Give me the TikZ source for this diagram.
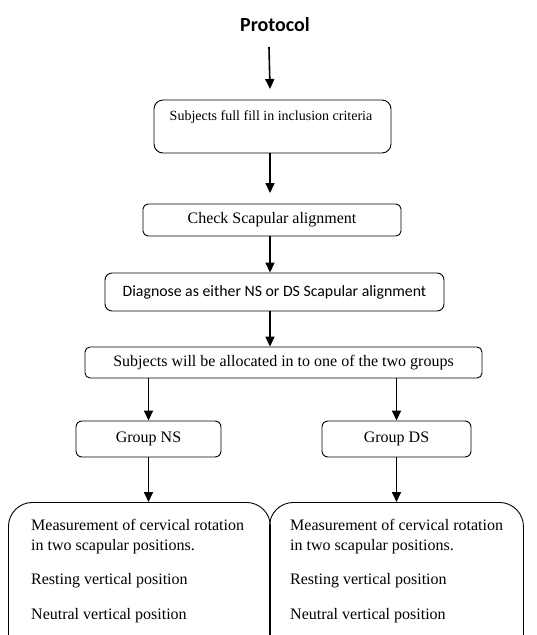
\documentclass[tikz,border=0pt]{standalone}
\usepackage{fontspec}
\setmainfont{Liberation Serif}
\newfontfamily\calibri{Carlito}
\usetikzlibrary{arrows.meta}
\tikzset{
  x=1pt, y=-1pt,
  box/.style={draw, line width=0.9pt, rounded corners=#1, inner sep=0pt},
  box/.default=6pt,
  txt/.style={font=\fontsize{16}{20}\selectfont, inner sep=0pt},
  sanstxt/.style={font=\calibri\fontsize{15.8}{18}\selectfont, inner sep=0pt},
  arr/.style={line width=1.6pt, -{Triangle[length=10pt, width=9pt]}},
}
\begin{document}
\begin{tikzpicture}
\useasboundingbox (0,0) rectangle (536,635);
\clip (0,0) rectangle (536,635);
% title
\node[font=\calibri\bfseries\fontsize{20}{24}\selectfont, inner sep=0pt] (title) at (275,25) {Protocol};
\coordinate (t0) at (269,47);
% boxes
\draw[box=9pt] (154,100) rectangle (391,153);
\node[txt, minimum width=237pt, minimum height=53pt] (b1) at (272.5,126.5) {};
\node[txt, font=\fontsize{14}{17}\selectfont] (b1t) at (271,117) {Subjects full fill in inclusion criteria};

\node[box=5pt, txt, minimum width=258pt, minimum height=32pt] (b2) at (272,220) {Check Scapular alignment};
\node[box=7pt, sanstxt, minimum width=339pt, minimum height=38pt] (b3) at (274.5,292) {Diagnose as either NS or DS Scapular alignment};
\node[box=5pt, txt, minimum width=397pt, minimum height=31pt] (b4) at (283.5,362.5) {Subjects will be allocated in to one of the two groups};

\node[box=6pt, txt, minimum width=145pt, minimum height=36pt] (g1) at (148.5,439) {Group NS};
\node[box=6pt, txt, minimum width=149pt, minimum height=36pt] (g2) at (396.5,439) {Group DS};

\node[box=24pt, minimum width=262pt, minimum height=160pt, anchor=north west] (m1) at (8,502) {};
\node[box=24pt, minimum width=254pt, minimum height=160pt, anchor=north west] (m2) at (269,502) {};

\node[txt, anchor=base west] (m1a) at (31,530) {Measurement of cervical rotation};
\node[txt, anchor=base west] (m1d) at (31,550) {in two scapular positions.};
\node[txt, anchor=base west] (m1b) at (31,584) {Resting vertical position};
\node[txt, anchor=base west] (m1c) at (31,619) {Neutral vertical position};
\node[txt, anchor=base west] (m2a) at (290,530) {Measurement of cervical rotation};
\node[txt, anchor=base west] (m2d) at (290,550) {in two scapular positions.};
\node[txt, anchor=base west] (m2b) at (290,584) {Resting vertical position};
\node[txt, anchor=base west] (m2c) at (290,619) {Neutral vertical position};

% arrows
\draw[arr] (t0) -- (270,89);
\draw[arr] (b1.south -| 270,0) -- (270,193);
\draw[arr] (b2.south -| 270,0) -- (b3.north -| 270,0) ;
\draw[arr] (b3.south -| 270,0) -- (b4.north -| 270,0);
\draw[arr] (b4.south -| g1.south) -- (g1.north);
\draw[arr] (b4.south -| g2.south) -- (g2.north);
\draw[arr] (g1.south) -- (m1.north -| g1.south);
\draw[arr] (g2.south) -- (m2.north -| g2.south);
\end{tikzpicture}
\end{document}
